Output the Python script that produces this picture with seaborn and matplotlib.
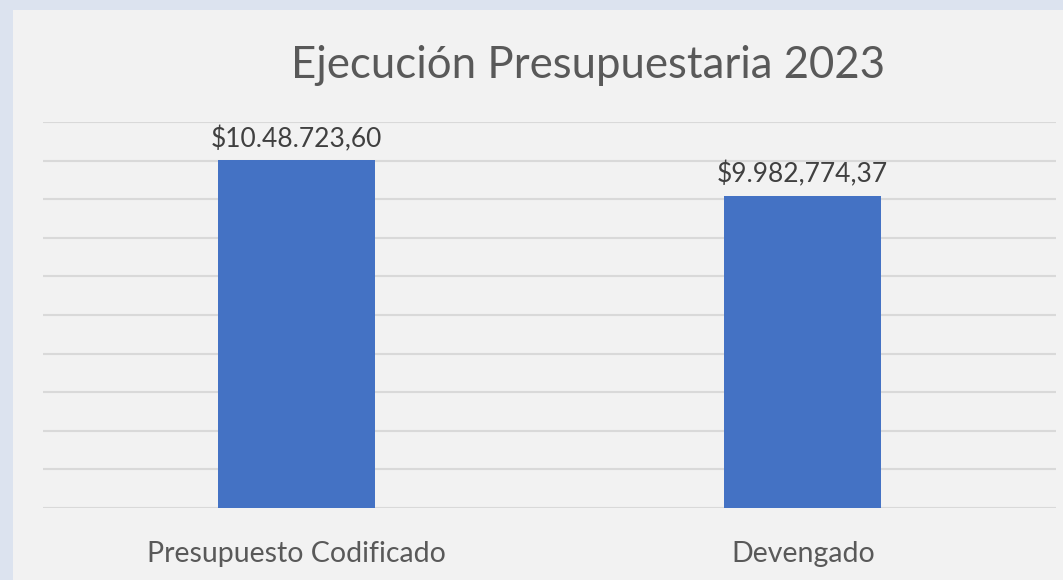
import numpy as np
import pandas as pd
import matplotlib.pyplot as plt
import seaborn as sns
from matplotlib.patches import Rectangle

# Data
categorias = ['Presupuesto Codificado', 'Devengado']
valores = [10048723.60, 9982774.37]
etiquetas = ['$10.48.723,60', '$9.982,774,37']

df = pd.DataFrame({'Categoria': categorias, 'Valor': valores})

sns.set_theme(style="white")
plt.rcParams['font.family'] = ['Lato', 'DejaVu Sans']

W, H = 1063, 580
fig = plt.figure(figsize=(W / 100, H / 100), dpi=100)
fig.patch.set_facecolor('#dce3ef')

# chart area panel (slide background shows at left/top edge)
bg = fig.add_axes([0, 0, 1, 1], zorder=0)
bg.axis('off')
bg.add_patch(Rectangle((13 / W, 0), 1 - 13 / W, 1 - 10 / H, transform=bg.transAxes,
                       facecolor='#f2f2f2', edgecolor='none'))

ax = fig.add_axes([43 / W, 72 / H, (1056 - 43) / W, (508 - 122) / H], zorder=1)
ax.set_facecolor('none')

sns.barplot(x='Categoria', y='Valor', data=df, color='#4472c4', width=0.31,
            saturation=1, linewidth=0, edgecolor='none', ax=ax, zorder=3)

# hidden value axis, Excel style gridlines
ax.set_ylim(9400000, 10120000)
ax.set_yticks(np.arange(9400000, 10120001, 72000))
ax.yaxis.grid(True, color='#d9d9d9', linewidth=1.5)
ax.set_axisbelow(True)
ax.tick_params(axis='y', left=False, labelleft=False)
ax.tick_params(axis='x', bottom=False, labelsize=20.5, colors='#595959', pad=18)
for s in ax.spines.values():
    s.set_visible(False)
ax.set_xlabel('')
ax.set_ylabel('')

ax.bar_label(ax.containers[0], labels=etiquetas, padding=6, fontsize=19, color='#404040')

fig.text(588 / W, 1 - 65 / H, 'Ejecución Presupuestaria 2023', ha='center', va='center',
         fontsize=31.5, color='#595959', zorder=2)

fig.savefig('out.png', dpi=100, facecolor=fig.get_facecolor())
